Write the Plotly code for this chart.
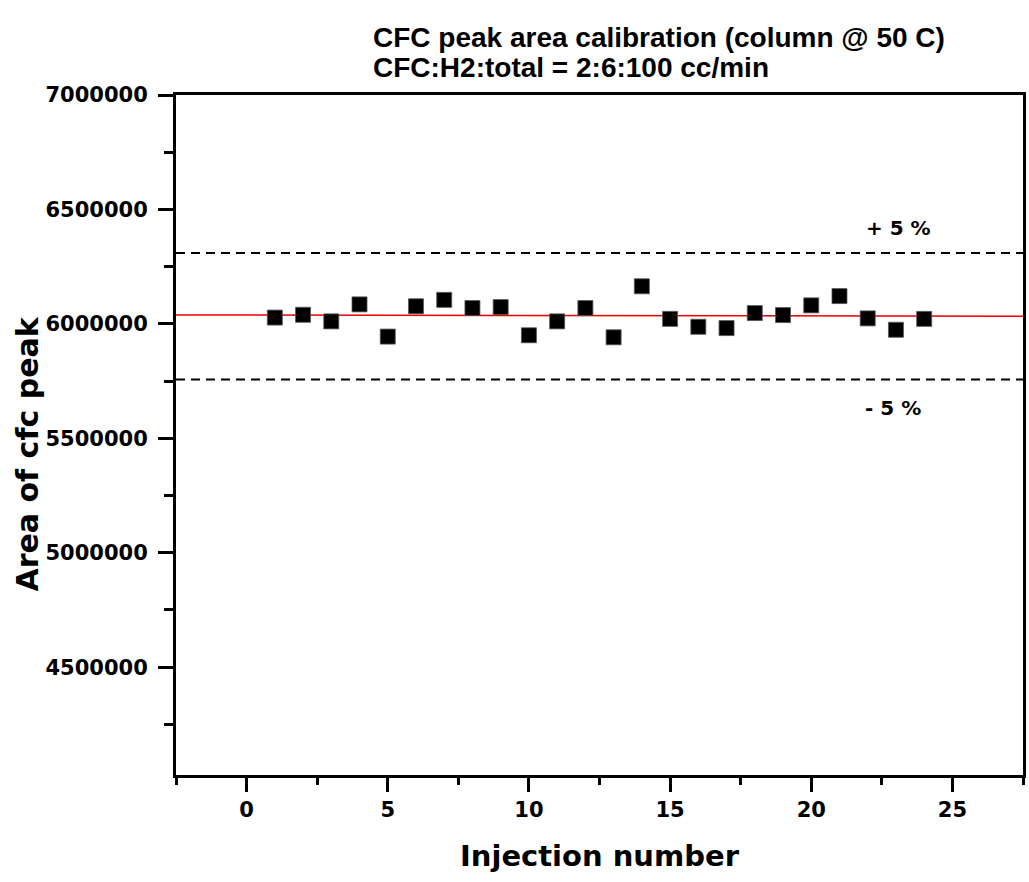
import numpy as np
import plotly.graph_objects as go

# Calibration run: peak area of the CFC for each injection
injection = list(range(1, 25))
peak_area = [
    6027500, 6039800, 6010900, 6085200, 5944500, 6076900, 6104900, 6069100,
    6073400, 5950200, 6010900, 6069100, 5941400, 6164300, 6021900, 5987300,
    5981600, 6047200, 6038500, 6080900, 6121500, 6024000, 5974200, 6021900,
]

# Tolerance band levels
upper_band = 6310000
lower_band = 5757000

x_range = [-2.5, 27.5]
y_range = [4029000, 7000000]

x_ticks = [0, 5, 10, 15, 20, 25]
y_ticks = [4500000, 5000000, 5500000, 6000000, 6500000, 7000000]

# Linear fit through the injections, drawn across the full axis span
slope, intercept = np.polyfit(injection, peak_area, 1)
fit_x = np.array(x_range)
fit_y = slope * fit_x + intercept

TICK_FONT = dict(family="DejaVu Sans", size=21, color="black", weight="bold")
TITLE_FONT = dict(family="DejaVu Sans", size=29, color="black", weight="bold")

fig = go.Figure()

fig.add_trace(go.Scatter(
    x=x_range, y=[upper_band, upper_band], mode="lines",
    line=dict(color="black", width=2, dash="9px,6px"), hoverinfo="skip",
))
fig.add_trace(go.Scatter(
    x=x_range, y=[lower_band, lower_band], mode="lines",
    line=dict(color="black", width=2, dash="9px,6px"), hoverinfo="skip",
))
fig.add_trace(go.Scatter(
    x=fit_x, y=fit_y, mode="lines",
    line=dict(color="#ee0000", width=1.5), hoverinfo="skip",
))
fig.add_trace(go.Scatter(
    x=injection, y=peak_area, mode="markers",
    marker=dict(symbol="square", size=15, color="black",
                line=dict(color="#555555", width=0.8)),
))

axis_common = dict(
    showline=True, linecolor="black", linewidth=3, mirror=True,
    ticks="outside", tickwidth=3, tickcolor="black",
    showgrid=False, zeroline=False, tickfont=TICK_FONT,
)

fig.update_xaxes(
    range=x_range, tickvals=x_ticks, ticklen=14,
    minor=dict(dtick=2.5, tick0=2.5, ticks="outside", ticklen=7,
               tickwidth=3, tickcolor="black", showgrid=False),
    title=dict(text="Injection number", font=TITLE_FONT, standoff=25),
    **axis_common,
)
fig.update_yaxes(
    range=y_range, tickvals=y_ticks, ticklen=15, ticklabelstandoff=6,
    tickformat="d",
    minor=dict(dtick=250000, tick0=4250000, ticks="outside", ticklen=9,
               tickwidth=3, tickcolor="black", showgrid=False),
    **axis_common,
)

# Vertical axis title, sitting a little below the plot's mid-height
fig.add_annotation(
    text="Area of cfc peak", xref="paper", yref="paper",
    x=-0.1753, y=0.472, xanchor="center", yanchor="middle", textangle=-90,
    showarrow=False,
    font=dict(family="DejaVu Sans", size=30, color="black", weight="bold"),
)

title_font = dict(family="Liberation Sans", size=28, color="black", weight="bold")
fig.add_annotation(
    text="CFC peak area calibration (column @ 50 C)", xref="paper", yref="paper",
    x=0.2306, y=1.084, xanchor="left", yanchor="middle", showarrow=False,
    font=title_font,
)
fig.add_annotation(
    text="CFC:H2:total = 2:6:100 cc/min", xref="paper", yref="paper",
    x=0.2306, y=1.040, xanchor="left", yanchor="middle", showarrow=False,
    font=title_font,
)

band_font = dict(family="DejaVu Sans", size=20, color="black", weight="bold")
fig.add_annotation(text="+ 5 %", x=23.1, y=6418000, showarrow=False, font=band_font)
fig.add_annotation(text="- 5 %", x=22.9, y=5632000, showarrow=False, font=band_font)

fig.update_layout(
    width=1029, height=882,
    margin=dict(l=176, r=3, t=95, b=107),
    plot_bgcolor="white", paper_bgcolor="white",
    showlegend=False,
)

fig.write_html("out.html")
